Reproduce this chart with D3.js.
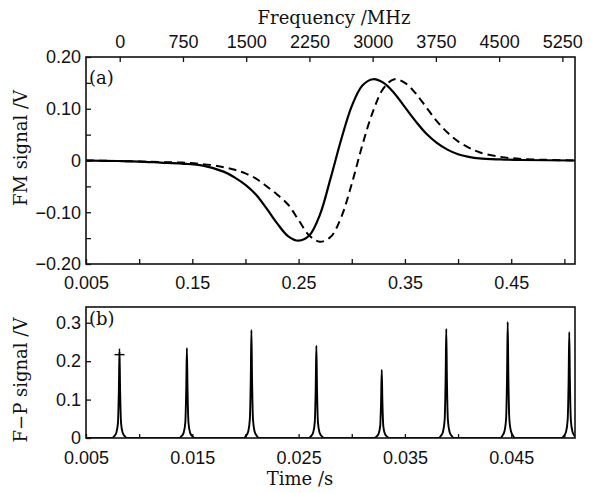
<!DOCTYPE html>
<html>
<head>
<meta charset="utf-8">
<script src="https://cdn.jsdelivr.net/npm/d3@7"></script>
<style>
  body { margin: 0; background: #fff; }
  svg { display: block; font-family: "DejaVu Serif", serif; }
  .tick text { font-size: 18px; fill: #111; }
  .tick line { stroke: #111; stroke-width: 1.3; }
  .title { font-size: 18px; fill: #111; }
</style>
</head>
<body>
<script>
// Top panel: FM signal samples
const fmTime = [0.05, 0.08, 0.10, 0.12, 0.14, 0.16, 0.18, 0.19, 0.20, 0.21, 0.22, 0.23, 0.24, 0.25,
  0.26, 0.27, 0.28, 0.29, 0.30, 0.31, 0.32, 0.33, 0.34, 0.35, 0.36, 0.37, 0.38, 0.39, 0.40, 0.41,
  0.42, 0.44, 0.46, 0.51];
const fmSolid = [0, -0.001, -0.002, -0.004, -0.006, -0.010, -0.022, -0.033, -0.047, -0.066, -0.093,
  -0.122, -0.146, -0.155, -0.145, -0.105, -0.035, 0.040, 0.105, 0.145, 0.157, 0.150, 0.130, 0.103,
  0.076, 0.052, 0.034, 0.021, 0.012, 0.007, 0.004, 0.002, 0.001, 0];
const fmDashed = [0, -0.001, -0.002, -0.003, -0.004, -0.007, -0.013, -0.018, -0.025, -0.035, -0.050,
  -0.066, -0.085, -0.115, -0.145, -0.157, -0.148, -0.110, -0.045, 0.030, 0.095, 0.140, 0.157, 0.150,
  0.130, 0.103, 0.076, 0.054, 0.037, 0.025, 0.016, 0.007, 0.003, 0];

// Bottom panel: F-P transmission peaks
const fpTime = [0.00815, 0.01449, 0.02056, 0.02667, 0.03282, 0.03889, 0.04467, 0.05046];
const fpHeight = [0.225, 0.234, 0.281, 0.240, 0.177, 0.284, 0.302, 0.276];
// shape of one peak: time offset from centre, fraction of peak height
const peakOffset = [-0.0007, -0.0005, -0.0003, -0.00015, -0.00006, 0, 0.00006, 0.00015, 0.0003, 0.0005, 0.0007];
const peakShape = [0, 0.02, 0.06, 0.17, 0.55, 1, 0.55, 0.17, 0.06, 0.02, 0];
const markTime = [0.00815];
const markValue = [0.217];

// Ticks and labels
const topTimeTicks = [0.05, 0.10, 0.15, 0.20, 0.25, 0.30, 0.35, 0.40, 0.45, 0.50];
const topTimeLabels = ["0.005", "", "0.15", "", "0.25", "", "0.35", "", "0.45", ""];
const freqTicks = [0, 750, 1500, 2250, 3000, 3750, 4500, 5250];
const fmTicks = [-0.20, -0.15, -0.10, -0.05, 0, 0.05, 0.10, 0.15, 0.20];
const fmLabels = ["\u22120.20", "", "\u22120.10", "", "0", "", "0.10", "", "0.20"];
const botTimeTicks = [0.005, 0.010, 0.015, 0.020, 0.025, 0.030, 0.035, 0.040, 0.045, 0.050];
const botTimeLabels = ["0.005", "", "0.015", "", "0.025", "", "0.035", "", "0.045", ""];
const fpTicks = [0, 0.1, 0.2, 0.3];
const fpLabels = ["0", "0.1", "0.2", "0.3"];

const outerWidth = 597;
const outerHeight = 493;
const left = 86, right = 575;
const top1 = 57, bottom1 = 264;
const top2 = 307, bottom2 = 438;

const svg = d3.select("body").append("svg")
  .attr("width", outerWidth)
  .attr("height", outerHeight);

// Scales
const x1 = d3.scaleLinear().domain([0.05, 0.51]).range([left, right]);
const xf = d3.scaleLinear().domain([-400, 5400]).range([left, right]);
const y1 = d3.scaleLinear().domain([-0.20, 0.20]).range([bottom1, top1]);
const x2 = d3.scaleLinear().domain([0.005, 0.051]).range([left, right]);
const y2 = d3.scaleLinear().domain([0, 0.341]).range([bottom2, top2]);

function styleAxis(g) {
  g.select(".domain").remove();
  g.selectAll(".tick text").attr("fill", "#111");
}

// ---- top panel axes
svg.append("g")
  .attr("transform", `translate(0,${bottom1})`)
  .call(d3.axisBottom(x1).tickValues(topTimeTicks)
    .tickFormat((d, i) => topTimeLabels[i]).tickSizeInner(-5).tickSizeOuter(0).tickPadding(12))
  .call(styleAxis);

svg.append("g")
  .attr("transform", `translate(0,${top1})`)
  .call(d3.axisTop(xf).tickValues(freqTicks)
    .tickFormat(d => d).tickSizeInner(-5).tickSizeOuter(0).tickPadding(9))
  .call(styleAxis);

svg.append("g")
  .attr("transform", `translate(${left},0)`)
  .call(d3.axisLeft(y1).tickValues(fmTicks)
    .tickFormat((d, i) => fmLabels[i]).tickSizeInner(-5).tickSizeOuter(0).tickPadding(5))
  .call(styleAxis);

// ---- bottom panel axes
svg.append("g")
  .attr("transform", `translate(0,${bottom2})`)
  .call(d3.axisBottom(x2).tickValues(botTimeTicks)
    .tickFormat((d, i) => botTimeLabels[i]).tickSizeInner(-4).tickSizeOuter(0).tickPadding(13))
  .call(styleAxis);

svg.append("g")
  .attr("transform", `translate(${left},0)`)
  .call(d3.axisLeft(y2).tickValues(fpTicks)
    .tickFormat((d, i) => fpLabels[i]).tickSizeInner(-5).tickSizeOuter(0).tickPadding(5))
  .call(styleAxis);

// Clip paths so the curves stay inside the frames
svg.append("clipPath").attr("id", "clip1")
  .append("rect").attr("x", left).attr("y", top1).attr("width", right - left).attr("height", bottom1 - top1);
svg.append("clipPath").attr("id", "clip2")
  .append("rect").attr("x", left).attr("y", top2).attr("width", right - left).attr("height", bottom2 - top2);

// ---- FM curves
const fmLine = d3.line()
  .x(d => x1(d[0]))
  .y(d => y1(d[1]))
  .curve(d3.curveCatmullRom.alpha(0.5));

svg.append("path")
  .attr("clip-path", "url(#clip1)")
  .attr("d", fmLine(fmTime.map((t, i) => [t, fmDashed[i]])))
  .attr("fill", "none")
  .attr("stroke", "#000")
  .attr("stroke-width", 2)
  .attr("stroke-dasharray", "8,5");

svg.append("path")
  .attr("clip-path", "url(#clip1)")
  .attr("d", fmLine(fmTime.map((t, i) => [t, fmSolid[i]])))
  .attr("fill", "none")
  .attr("stroke", "#000")
  .attr("stroke-width", 2.2);

// ---- F-P peaks
const fpPoints = [[0.005, 0]];
fpTime.forEach((t, i) => {
  peakOffset.forEach((o, j) => fpPoints.push([t + o, fpHeight[i] * peakShape[j]]));
});
fpPoints.push([0.052, 0]);

const fpLine = d3.line()
  .x(d => x2(d[0]))
  .y(d => y2(d[1]))
  .curve(d3.curveMonotoneX);

svg.append("path")
  .attr("clip-path", "url(#clip2)")
  .attr("d", fpLine(fpPoints))
  .attr("fill", "none")
  .attr("stroke", "#000")
  .attr("stroke-width", 1.9);

// plus marker on the first peak
const marks = svg.append("g").selectAll("g")
  .data(markTime)
  .join("g")
  .attr("transform", (d, i) => `translate(${x2(d)},${y2(markValue[i])})`)
  .attr("stroke", "#000")
  .attr("stroke-width", 1.4);
marks.append("line").attr("x1", -5).attr("x2", 5);
marks.append("line").attr("y1", -6).attr("y2", 6);

// ---- frames
[[top1, bottom1], [top2, bottom2]].forEach(([t, b]) => {
  svg.append("rect")
    .attr("x", left).attr("y", t)
    .attr("width", right - left).attr("height", b - t)
    .attr("fill", "none")
    .attr("stroke", "#111")
    .attr("stroke-width", 1.6);
});

// ---- texts
svg.append("text").attr("class", "title")
  .attr("x", 334).attr("y", 24).attr("text-anchor", "middle")
  .text("Frequency /MHz");

svg.append("text").attr("class", "title")
  .attr("x", 300).attr("y", 485).attr("text-anchor", "middle")
  .text("Time /s");

svg.append("text").attr("class", "title")
  .attr("transform", "translate(27,148) rotate(-90)")
  .attr("text-anchor", "middle")
  .text("FM signal /V");

svg.append("text").attr("class", "title")
  .attr("transform", "translate(27,380) rotate(-90)")
  .attr("text-anchor", "middle")
  .text("F\u2212P signal /V");

svg.append("text").attr("class", "title")
  .attr("x", 89).attr("y", 84).text("(a)");

svg.append("text").attr("class", "title")
  .attr("x", 89).attr("y", 325).text("(b)");
</script>
</body>
</html>
